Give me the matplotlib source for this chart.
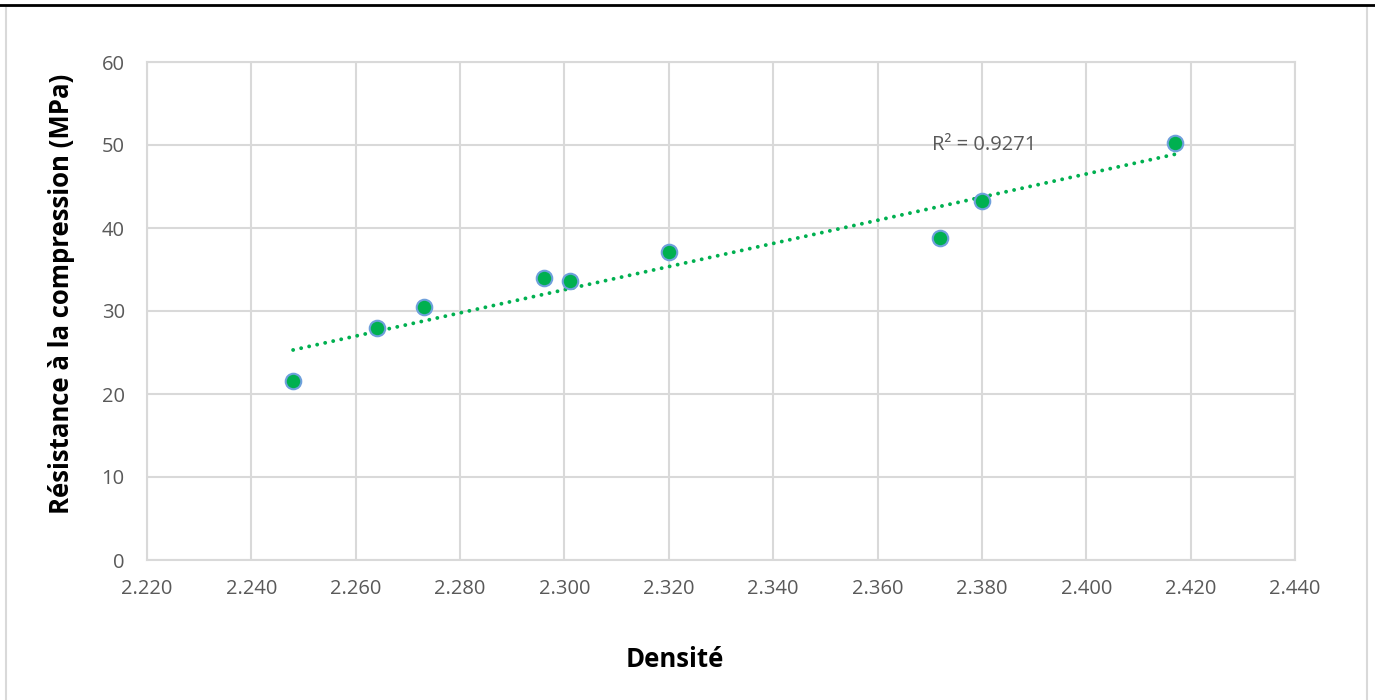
import matplotlib.pyplot as plt
import numpy as np
from matplotlib.patches import Rectangle
from matplotlib.lines import Line2D

# Densité vs résistance à la compression
densite = [2.248, 2.264, 2.273, 2.296, 2.301, 2.320, 2.372, 2.380, 2.417]
resistance = [21.6, 27.9, 30.5, 34.0, 33.6, 37.1, 38.8, 43.2, 50.2]
x_ticks = [2.220, 2.240, 2.260, 2.280, 2.300, 2.320, 2.340, 2.360, 2.380, 2.400, 2.420, 2.440]
y_ticks = [0, 10, 20, 30, 40, 50, 60]
r2_label = "R² = 0.9271"

plt.rcParams['font.family'] = ['Open Sans', 'DejaVu Sans']

fig = plt.figure(figsize=(13.75, 7), dpi=100)
ax = fig.add_axes([147 / 1375, 1 - 560 / 700, (1295 - 147) / 1375, (560 - 62) / 700])

grid_col = '#D9D9D9'
green = '#00B050'

# courbe de tendance linéaire
a, b = np.polyfit(densite, resistance, 1)
xs = np.array([min(densite), max(densite)])
ax.plot(xs, a * xs + b, color=green, lw=2.8, linestyle=(0, (0.01, 2.1)),
        dash_capstyle='round', zorder=2)

ax.scatter(densite, resistance, s=125, color=green, edgecolors='#6FA0DC',
           linewidths=1.5, zorder=3)

ax.text(2.3705, 50, r2_label, fontsize=14.5, color='#595959', ha='left', va='center')

ax.set_xlim(2.220, 2.440)
ax.set_ylim(0, 60)
ax.set_xticks(x_ticks)
ax.set_xticklabels([f"{v:.3f}" for v in x_ticks])
ax.set_yticks(y_ticks)
ax.tick_params(length=0, labelsize=14.5, labelcolor='#595959')
ax.tick_params(axis='y', pad=16)
ax.tick_params(axis='x', pad=14)
ax.grid(True, color=grid_col, lw=1.5)
ax.set_axisbelow(True)
for s in ax.spines.values():
    s.set_color(grid_col)
    s.set_linewidth(1.5)

ax.set_xlabel('Densité', fontsize=18.5, fontweight='bold')
ax.set_ylabel('Résistance à la compression (MPa)', fontsize=18.5, fontweight='bold')
ax.xaxis.set_label_coords(0.46, -0.172)
ax.yaxis.set_label_coords(-0.063, 0.535)

# cadre du graphique
fig.patches.append(Rectangle((6 / 1375, -0.01), (1367 - 6) / 1375, 1 - 6 / 700 + 0.01,
                             transform=fig.transFigure, fill=False,
                             edgecolor=grid_col, lw=1.5))
fig.lines.append(Line2D([0, 1], [1 - 5 / 700, 1 - 5 / 700], transform=fig.transFigure,
                        color='black', lw=2))

fig.savefig('out.png', dpi=100)
